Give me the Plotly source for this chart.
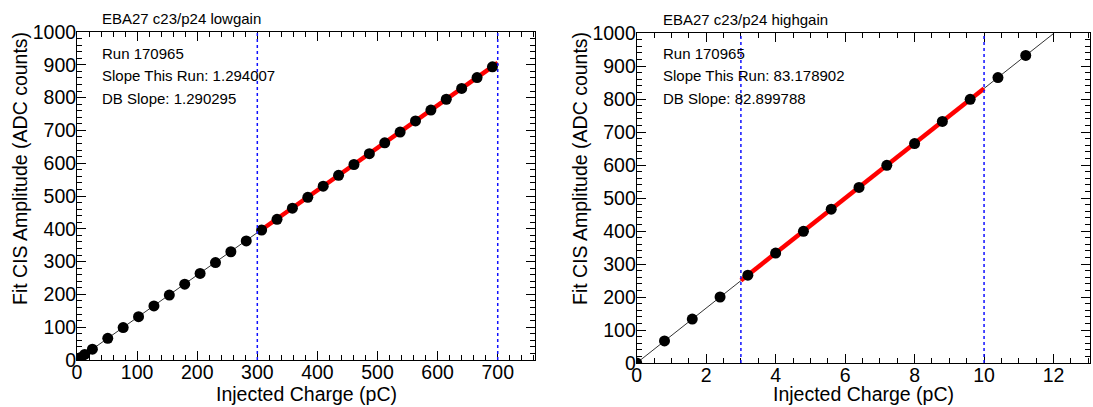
import plotly.graph_objects as go

# ---- data: lowgain scan ----
lo_charge = [0, 3.2, 6.4, 12.8, 25.6, 51.2, 76.8, 102.4, 128, 153.6, 179.2, 204.8,
             230.4, 256, 281.6, 307.2, 332.8, 358.4, 384, 409.6, 435.2, 460.8,
             486.4, 512, 537.6, 563.2, 588.8, 614.4, 640, 665.6, 691.2]
lo_amp = [0, 4, 8, 17, 33, 66, 99, 132, 165, 198, 231, 264,
          297, 330, 363, 396, 429, 463, 496, 530, 563, 596,
          629, 662, 695, 729, 762, 795, 828, 861, 894]
lo_line_x = [0, 700]
lo_line_y = [0, 906]
lo_fit_x = [300, 700]
lo_fit_y = [388, 906]
lo_bounds = [300, 700]
lo_text = ["Run 170965", "Slope This Run: 1.294007", "DB Slope: 1.290295"]

# ---- data: highgain scan ----
hi_charge = [0, 0.8, 1.6, 2.4, 3.2, 4.0, 4.8, 5.6, 6.4, 7.2, 8.0, 8.8, 9.6, 10.4, 11.2]
hi_amp = [0, 67, 133, 200, 266, 333, 399, 466, 532, 599, 665, 732, 799, 865, 932]
hi_line_x = [0, 12.02]
hi_line_y = [0, 1000]
hi_fit_x = [3, 10]
hi_fit_y = [250, 832]
hi_bounds = [3, 10]
hi_text = ["Run 170965", "Slope This Run: 83.178902", "DB Slope: 82.899788"]

W, H = 1093, 407
FONT = "Liberation Sans, Arial, sans-serif"


def px(x):
    return x / W


def py(y):
    return 1 - y / H


fig = go.Figure()

for i, (cx, cy, lx, ly, fx, fy) in enumerate([
        (lo_charge, lo_amp, lo_line_x, lo_line_y, lo_fit_x, lo_fit_y),
        (hi_charge, hi_amp, hi_line_x, hi_line_y, hi_fit_x, hi_fit_y)]):
    xa = "x" if i == 0 else "x2"
    ya = "y" if i == 0 else "y2"
    fig.add_trace(go.Scatter(x=lx, y=ly, mode="lines", xaxis=xa, yaxis=ya,
                             line=dict(color="#333333", width=1), showlegend=False))
    fig.add_trace(go.Scatter(x=fx, y=fy, mode="lines", xaxis=xa, yaxis=ya,
                             line=dict(color="#ff0000", width=4.5), showlegend=False))
    fig.add_trace(go.Scatter(x=cx, y=cy, mode="markers", xaxis=xa, yaxis=ya,
                             marker=dict(color="black", size=11), showlegend=False))

for b in lo_bounds:
    fig.add_shape(type="line", xref="x", yref="y domain", x0=b, x1=b, y0=0, y1=1,
                  line=dict(color="#1010ff", width=1.5, dash="dot"))
for b in hi_bounds:
    fig.add_shape(type="line", xref="x2", yref="y2 domain", x0=b, x1=b, y0=0, y1=1,
                  line=dict(color="#1010ff", width=1.5, dash="dot"))

axis_common = dict(
    showline=True, linecolor="black", linewidth=1, mirror="allticks",
    ticks="inside", ticklen=9, tickcolor="black", tickwidth=1,
    showgrid=False, zeroline=False, automargin=False,
    tickfont=dict(family=FONT, size=19.5, color="black"),
)
minor_y = dict(dtick=20, ticklen=5, ticks="inside", tickcolor="black")

fig.update_layout(
    width=W, height=H,
    margin=dict(l=0, r=0, t=0, b=0, pad=0, autoexpand=False),
    paper_bgcolor="white", plot_bgcolor="white",
    font=dict(family=FONT, color="black"),
    xaxis=dict(domain=[px(77), px(535)], range=[0, 762], dtick=100, anchor="y",
               ticklabelstandoff=-5,
               minor=dict(dtick=20, ticklen=5, ticks="inside", tickcolor="black"),
               **axis_common),
    yaxis=dict(domain=[py(360), py(32)], range=[0, 1000], dtick=100, anchor="x",
               ticklabelstandoff=-4, minor=minor_y, **axis_common),
    xaxis2=dict(domain=[px(636.7), px(1090)], range=[0, 13.05], dtick=2, anchor="y2",
                ticklabelstandoff=-5,
                minor=dict(dtick=0.5, ticklen=5, ticks="inside", tickcolor="black"),
                **axis_common),
    yaxis2=dict(domain=[py(363), py(33)], range=[0, 1000], dtick=100, anchor="x2",
                ticklabelstandoff=-4, minor=minor_y, **axis_common),
)

ann = []
# titles and info text
for x0, title, lines, ys in [
        (100, "EBA27 c23/p24 lowgain", lo_text, [18, 54, 75, 98]),
        (661, "EBA27 c23/p24 highgain", hi_text, [19, 54, 75, 99])]:
    ann.append(dict(x=px(x0), y=py(ys[0]), text=title))
    for t, yy in zip(lines, ys[1:]):
        ann.append(dict(x=px(x0), y=py(yy), text=t))
ann = [dict(a, xref="paper", yref="paper", xanchor="left", yanchor="middle",
            showarrow=False, font=dict(family=FONT, size=15, color="black")) for a in ann]

# axis titles
for xc, yc in [((77 + 535) / 2, 394), ((636.7 + 1090) / 2, 394)]:
    ann.append(dict(x=px(xc), y=py(yc), xref="paper", yref="paper", showarrow=False,
                    xanchor="center", yanchor="middle", text="Injected Charge (pC)",
                    font=dict(family=FONT, size=19.5, color="black")))
for xc in [19.5, 579.5]:
    ann.append(dict(x=px(xc), y=py(30), xref="paper", yref="paper", showarrow=False,
                    xanchor="center", yanchor="top", textangle=-90,
                    text="Fit CIS Amplitude (ADC counts)",
                    font=dict(family=FONT, size=19.5, color="black")))

fig.update_layout(annotations=ann)

fig.write_html("out.html", config={"displayModeBar": False},
               post_script="document.body.style.margin='0';")
